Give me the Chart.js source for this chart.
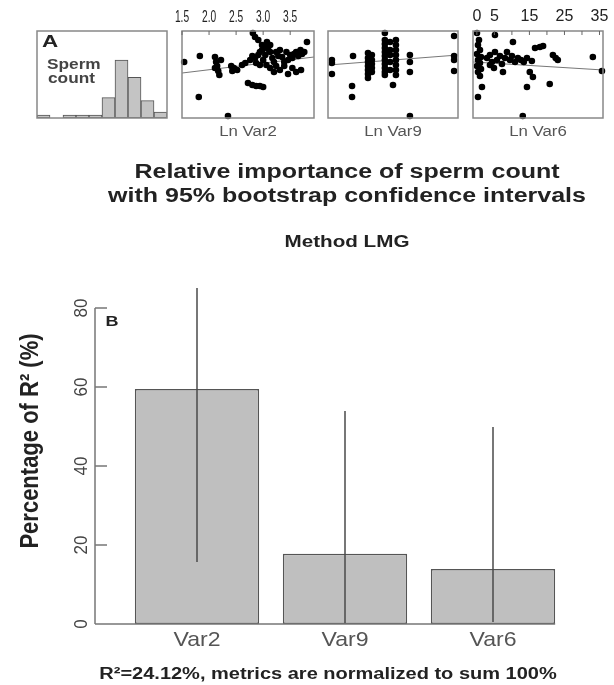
<!DOCTYPE html>
<html>
<head>
<meta charset="utf-8">
<script src="https://cdn.jsdelivr.net/npm/chart.js@4.4.1/dist/chart.umd.min.js"></script>
<style>
  html, body { margin: 0; padding: 0; background: #fff; }
  #wrap { position: relative; width: 614px; height: 685px; }
  canvas { position: absolute; left: 0; top: 0; }
</style>
</head>
<body>
<div id="wrap">
  <canvas id="mainChart" width="614" height="685"></canvas>
  <canvas id="histChart" width="614" height="140"></canvas>
  <canvas id="var2Chart" width="614" height="140"></canvas>
  <canvas id="var9Chart" width="614" height="140"></canvas>
  <canvas id="var6Chart" width="614" height="140"></canvas>
</div>
<script>
// ---- panel B data ----
const categories = ['Var2', 'Var9', 'Var6'];
const lmgValues = [59.5, 17.8, 13.9];
const ciLower = [15.7, 0, 0.5];
const ciUpper = [85.1, 53.9, 49.9];
const yTicks = [0, 20, 40, 60, 80];

// ---- panel A data ----
const histCounts = [1, 0, 1, 1, 1, 7, 20, 14, 6, 2];

const var2X = [1.54, 1.83, 1.81, 2.35, 2.11, 2.13, 2.15, 2.17, 2.19, 2.11, 2.22, 2.41, 2.46, 2.52, 2.43,
  2.81, 2.85, 2.91, 2.98, 3.06, 2.76, 2.80, 2.85, 2.91, 2.94, 2.98, 3.04, 3.09, 3.13, 3.17, 3.20, 3.24,
  3.28, 3.31, 3.35, 3.39, 3.43, 3.46, 3.50, 3.54, 3.57, 3.61, 3.65, 3.69, 3.72, 3.76, 3.81, 3.00, 3.06,
  3.13, 3.20, 3.24, 3.31, 3.39, 3.46, 3.54, 3.61, 3.70, 2.72, 2.80, 2.87, 2.94, 3.00, 2.67, 2.61, 2.87,
  2.94, 3.07, 3.13];
const var2Y = [64.4, 71.3, 24.1, 2.3, 70.1, 64.4, 59.8, 54.0, 49.4, 57.5, 66.7, 59.8, 57.5, 55.2, 54.0,
  97.7, 93.1, 89.7, 83.9, 81.6, 66.7, 71.3, 69.0, 72.4, 75.9, 78.2, 72.4, 79.3, 75.9, 69.0, 64.4, 75.9,
  71.3, 78.2, 70.1, 64.4, 75.9, 66.7, 72.4, 69.0, 73.6, 75.9, 71.3, 78.2, 73.6, 75.9, 87.4, 66.7, 60.9,
  57.5, 52.9, 59.8, 55.2, 59.8, 50.6, 57.5, 52.9, 55.2, 40.2, 37.9, 36.8, 36.8, 35.6, 63.2, 60.9, 63.2,
  60.9, 87.4, 83.9];
const var2Fit = [{ x: 1.5, y: 51.7 }, { x: 3.94, y: 70.1 }];
const var2Ticks = [1.5, 2.0, 2.5, 3.0, 3.5];

const var9X = [0.12, 0.12, 0.12, 0.77, 0.74, 0.74, 1.23, 1.23, 1.23, 1.23, 1.23, 1.23, 1.23,
  1.35, 1.35, 1.35, 1.35, 1.35, 1.75, 1.75, 1.75, 1.75, 1.75, 1.75, 1.75, 1.75, 1.75, 1.75, 1.75,
  1.91, 1.91, 1.91, 1.91, 1.91, 2.09, 2.09, 2.09, 2.09, 2.09, 2.09, 2.09, 2.09, 2.0, 2.52, 2.52,
  2.52, 2.52, 3.88, 3.88, 3.88, 3.88];
const var9Y = [66.7, 63.2, 50.6, 71.3, 36.8, 24.1, 74.7, 69.0, 64.4, 59.8, 55.2, 50.6, 46.0,
  72.4, 66.7, 62.1, 57.5, 52.9, 97.7, 89.7, 85.1, 80.5, 75.9, 71.3, 66.7, 62.1, 57.5, 52.9, 49.4,
  87.4, 78.2, 72.4, 64.4, 55.2, 89.7, 83.9, 78.2, 72.4, 66.7, 60.9, 55.2, 49.4, 37.9, 2.3, 72.4,
  64.4, 52.9, 94.3, 71.3, 66.7, 54.0];
const var9Fit = [{ x: 0, y: 60.9 }, { x: 4, y: 72.4 }];

const var6X = [0.04, 0.61, 0.32, 0.89, 0.04, 1.18, 0.32, 0.89, 0.04, 1.18, 0.32, 0.89, 1.46, 0.32,
  5.17, 10.3, 2.89, 3.74, 4.31, 5.17, 5.74, 6.59, 7.16, 8.02, 8.59, 9.44, 10.0, 10.9, 11.7, 12.6, 13.4,
  14.3, 3.74, 4.88, 7.45, 15.1, 16.0, 14.3, 13.1, 16.6, 18.0, 18.9, 15.7, 20.8, 21.7, 22.5, 23.1, 33.1, 35.7];
const var6Y = [97.7, 89.7, 83.9, 78.2, 73.6, 70.1, 66.7, 63.2, 59.8, 56.3, 52.9, 48.3, 35.6, 24.1,
  95.4, 87.4, 69.0, 72.4, 64.4, 75.9, 66.7, 71.3, 62.1, 69.0, 75.9, 66.7, 71.3, 64.4, 69.0, 66.7, 64.4,
  69.0, 60.9, 57.5, 52.9, 52.9, 47.1, 35.6, 2.3, 80.5, 81.6, 82.8, 65.5, 39.1, 72.4, 69.0, 66.7, 70.1, 54.0];
const var6Fit = [{ x: -1.1, y: 64.4 }, { x: 36, y: 55.2 }];
const var6TickMarks = [0, 5, 10, 15, 20, 25, 30, 35];
const var6Labels = [0, 5, 15, 25, 35];

const FONT = '"Liberation Sans", Arial, sans-serif';

// draw text squeezed / stretched horizontally
function drawText(ctx, text, x, y, font, color, sx, align) {
  ctx.save();
  ctx.font = font;
  ctx.fillStyle = color;
  ctx.textAlign = align || 'center';
  ctx.textBaseline = 'middle';
  ctx.translate(x, y);
  ctx.scale(sx, 1);
  ctx.fillText(text, 0, 0);
  ctx.restore();
}
// rotated text, sy widens the glyph height
function drawTextUp(ctx, text, x, y, font, color, sy) {
  ctx.save();
  ctx.font = font;
  ctx.fillStyle = color;
  ctx.textAlign = 'center';
  ctx.textBaseline = 'middle';
  ctx.translate(x, y);
  ctx.rotate(-Math.PI / 2);
  ctx.scale(1, sy);
  ctx.fillText(text, 0, 0);
  ctx.restore();
}

// ================= panel B =================
const mainDecor = {
  id: 'mainDecor',
  afterDatasetsDraw(chart) {
    const { ctx, chartArea } = chart;
    const x = chart.scales.x, y = chart.scales.y;

    // confidence intervals
    ctx.save();
    ctx.strokeStyle = '#4a4a4a';
    ctx.lineWidth = 1.5;
    categories.forEach((c, i) => {
      const px = x.getPixelForValue(i);
      ctx.beginPath();
      ctx.moveTo(px, y.getPixelForValue(ciLower[i]));
      ctx.lineTo(px, y.getPixelForValue(ciUpper[i]));
      ctx.stroke();
    });

    // y axis (ticks point inwards)
    const axisX = chartArea.left - 28;
    ctx.strokeStyle = '#777';
    ctx.beginPath();
    ctx.moveTo(axisX, y.getPixelForValue(yTicks[0]));
    ctx.lineTo(axisX, y.getPixelForValue(yTicks[yTicks.length - 1]));
    yTicks.forEach(t => {
      const py = y.getPixelForValue(t);
      ctx.moveTo(axisX, py);
      ctx.lineTo(axisX + 12, py);
    });
    // base line
    const bars = chart.getDatasetMeta(0).data;
    const last = bars[bars.length - 1];
    ctx.moveTo(axisX, y.getPixelForValue(0));
    ctx.lineTo(last.x + last.width / 2, y.getPixelForValue(0));
    ctx.stroke();
    ctx.restore();

    yTicks.forEach(t => {
      drawTextUp(ctx, String(t), axisX - 13, y.getPixelForValue(t), '17px ' + FONT, '#444', 1.05);
    });
    drawTextUp(ctx, 'Percentage of R² (%)', 31, 441, 'bold 22px ' + FONT, '#222', 1.15);
    drawText(ctx, 'B', 112, 322, 'bold 15px ' + FONT, '#222', 1.2);

    categories.forEach((c, i) => {
      drawText(ctx, c, x.getPixelForValue(i), 640, '21px ' + FONT, '#555', 1.1);
    });

    drawText(ctx, 'Relative importance of sperm count', 347, 172, 'bold 20px ' + FONT, '#222', 1.25);
    drawText(ctx, 'with 95% bootstrap confidence intervals', 347, 196, 'bold 20px ' + FONT, '#222', 1.25);
    drawText(ctx, 'Method LMG', 347, 242, 'bold 16.5px ' + FONT, '#222', 1.25);
    drawText(ctx, 'R²=24.12%, metrics are normalized to sum 100%', 328, 675, 'bold 16px ' + FONT, '#222', 1.25);
  }
};

new Chart(document.getElementById('mainChart'), {
  type: 'bar',
  data: {
    labels: categories,
    datasets: [{
      data: lmgValues,
      backgroundColor: '#bfbfbf',
      borderColor: '#555',
      borderWidth: 1.5,
      borderSkipped: false,
      barPercentage: 0.84,
      categoryPercentage: 1
    }]
  },
  options: {
    responsive: false,
    animation: false,
    layout: { padding: { left: 123, right: 47, top: 280, bottom: 61 } },
    plugins: { legend: { display: false }, tooltip: { enabled: false } },
    scales: {
      x: { display: false },
      y: { display: false, min: 0, max: 87.1 }
    }
  },
  plugins: [mainDecor]
});

// ================= panel A =================
function boxPlugin(label, ticks, labels, labelFont, labelSx, fmt) {
  return {
    id: 'box',
    afterDraw(chart) {
      const { ctx, chartArea: a } = chart;
      ctx.save();
      ctx.strokeStyle = '#888';
      ctx.lineWidth = 1.5;
      ctx.strokeRect(a.left, a.top, a.right - a.left, a.bottom - a.top);
      if (ticks) {
        ctx.lineWidth = 1;
        ctx.strokeStyle = '#666';
        ctx.beginPath();
        ticks.forEach(t => {
          const px = chart.scales.x.getPixelForValue(t);
          ctx.moveTo(px, a.top);
          ctx.lineTo(px, a.top + 4);
        });
        ctx.stroke();
      }
      ctx.restore();
      if (labels) {
        labels.forEach(t => {
          drawText(ctx, fmt(t), chart.scales.x.getPixelForValue(t), 17, labelFont, '#222', labelSx);
        });
      }
      if (label) {
        drawText(ctx, label, (a.left + a.right) / 2, 132, '14px ' + FONT, '#555', 1.2);
      }
    }
  };
}

const histDecor = {
  id: 'histDecor',
  afterDraw(chart) {
    const { ctx } = chart;
    drawText(ctx, 'A', 50, 43, 'bold 16px ' + FONT, '#222', 1.4);
    drawText(ctx, 'Sperm', 47, 65, 'bold 15px ' + FONT, '#444', 1.15, 'left');
    drawText(ctx, 'count', 48, 79, 'bold 15px ' + FONT, '#444', 1.15, 'left');
  }
};

new Chart(document.getElementById('histChart'), {
  type: 'bar',
  data: {
    labels: histCounts.map((c, i) => String(i)),
    datasets: [{
      data: histCounts,
      backgroundColor: '#c4c4c4',
      borderColor: '#555',
      borderWidth: 1,
      borderSkipped: false,
      barPercentage: 1,
      categoryPercentage: 1
    }]
  },
  options: {
    responsive: false,
    animation: false,
    layout: { padding: { left: 37, right: 447, top: 31, bottom: 22 } },
    plugins: { legend: { display: false }, tooltip: { enabled: false } },
    scales: {
      x: { display: false },
      y: { display: false, min: 0, max: 30 }
    }
  },
  plugins: [boxPlugin(null), histDecor]
});

function scatterChart(id, xs, ys, fit, xMin, xMax, padLeft, padRight, plugin) {
  new Chart(document.getElementById(id), {
    type: 'scatter',
    data: {
      datasets: [{
        data: xs.map((v, i) => ({ x: v, y: ys[i] })),
        backgroundColor: '#000',
        borderWidth: 0,
        pointRadius: 3.3,
        clip: false,
        order: 1
      }, {
        type: 'line',
        data: fit,
        borderColor: '#777',
        borderWidth: 1,
        pointRadius: 0,
        order: 2
      }]
    },
    options: {
      responsive: false,
      animation: false,
      layout: { padding: { left: padLeft, right: padRight, top: 31, bottom: 22 } },
      plugins: { legend: { display: false }, tooltip: { enabled: false } },
      scales: {
        x: { type: 'linear', display: false, min: xMin, max: xMax },
        y: { display: false, min: 0, max: 100 }
      }
    },
    plugins: [plugin]
  });
}

scatterChart('var2Chart', var2X, var2Y, var2Fit, 1.5, 3.94, 182, 300,
  boxPlugin('Ln Var2', var2Ticks, var2Ticks, '17px ' + FONT, 0.6, t => t.toFixed(1)));
scatterChart('var9Chart', var9X, var9Y, var9Fit, 0, 4, 328, 156,
  boxPlugin('Ln Var9'));
scatterChart('var6Chart', var6X, var6Y, var6Fit, -1.1, 36, 473, 11,
  boxPlugin('Ln Var6', var6TickMarks, var6Labels, '16px ' + FONT, 1.0, t => String(t)));
</script>
</body>
</html>
